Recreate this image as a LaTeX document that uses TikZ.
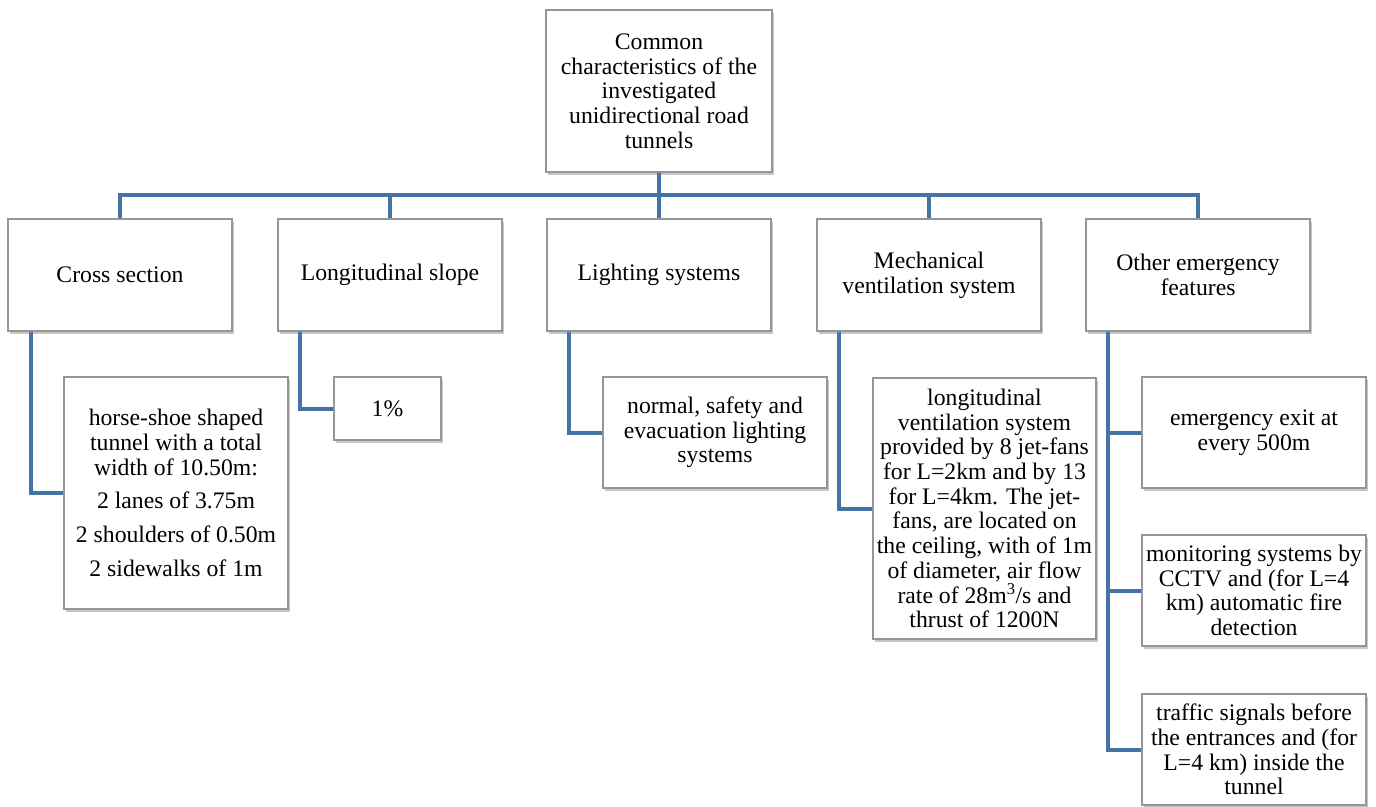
\documentclass[tikz,border=0pt]{standalone}
\usepackage{fontspec}
\setmainfont{Liberation Serif}
\usetikzlibrary{shadows}
\definecolor{connblue}{RGB}{69,114,167}
\definecolor{boxgray}{RGB}{150,150,150}
\tikzset{
  box/.style={draw=boxgray, line width=1.1pt, fill=white, rectangle, inner sep=0pt,
    align=center, font=\fontsize{23.7}{24.7}\selectfont,
    drop shadow={shadow xshift=1.5pt, shadow yshift=-2.5pt, fill=black, opacity=0.22}},
  conn/.style={draw=connblue, line width=4pt, line join=miter},
}
\begin{document}
\begin{tikzpicture}[x=1pt,y=-1pt]
\useasboundingbox (0,0) rectangle (1376,806);
\coordinate (bar) at (0,195);
% connectors first (under boxes)
\node[box, minimum width=226pt, minimum height=162pt] (top) at (659,91)
  {Common\\characteristics of the\\investigated\\unidirectional road\\tunnels};
\node[box, minimum width=224pt, minimum height=112pt] (cs) at (120,275) {Cross section};
\node[box, minimum width=224pt, minimum height=112pt] (ls) at (390,275) {Longitudinal slope};
\node[box, minimum width=224pt, minimum height=112pt] (lg) at (659,275) {Lighting systems};
\node[box, minimum width=224pt, minimum height=112pt] (mv) at (929,275) {Mechanical\\ventilation system};
\node[box, minimum width=224pt, minimum height=112pt] (oe) at (1198,275) {Other emergency\\features};
\node[box, minimum width=224pt, minimum height=232pt] (csc) at (176,493)
  {horse-shoe shaped\\tunnel with a total\\width of 10.50m:\\[9pt]2 lanes of 3.75m\\[9pt]2 shoulders of 0.50m\\[9pt]2 sidewalks of 1m};
\node[box, minimum width=107pt, minimum height=63pt] (lsc) at (387.5,408.5) {1\%};
\node[box, minimum width=224pt, minimum height=111pt] (lgc) at (715,432.5)
  {normal, safety and\\evacuation lighting\\systems};
\node[box, minimum width=223pt, minimum height=261pt] (mvc) at (984.5,508.5)
  {longitudinal\\ventilation system\\provided by 8 jet-fans\\for L=2km and by 13\\for L=4km. The jet-\\fans, are located on\\the ceiling, with of 1m\\of diameter, air flow\\rate of 28m\textsuperscript{3}/s and\\thrust of 1200N};
\node[box, minimum width=224pt, minimum height=111pt] (oe1) at (1254,432.5)
  {emergency exit at\\every 500m};
\node[box, minimum width=224pt, minimum height=111pt] (oe2) at (1254,590.5)
  {monitoring systems by\\CCTV and (for L=4\\km) automatic fire\\detection};
\node[box, minimum width=224pt, minimum height=111pt] (oe3) at (1254,749.5)
  {traffic signals before\\the entrances and (for\\L=4 km) inside the\\tunnel};
\begin{scope}[on background layer/.try]
\end{scope}
% top-level connectors
\foreach \c in {cs,ls,lg,mv,oe}{
  \draw[conn] (top.south) -- (top.south |- bar) -| (\c.north);
}
% second-level connectors
\draw[conn] ([xshift=24pt]cs.south west) |- (csc.west);
\draw[conn] ([xshift=23pt]ls.south west) |- (lsc.west);
\draw[conn] ([xshift=23pt]lg.south west) |- (lgc.west);
\draw[conn] ([xshift=23pt]mv.south west) |- (mvc.west);
\draw[conn] ([xshift=23pt]oe.south west) |- (oe3.west);
\draw[conn] ([xshift=23pt]oe.south west) |- (oe2.west);
\draw[conn] ([xshift=23pt]oe.south west) |- (oe1.west);
\end{tikzpicture}
\end{document}
